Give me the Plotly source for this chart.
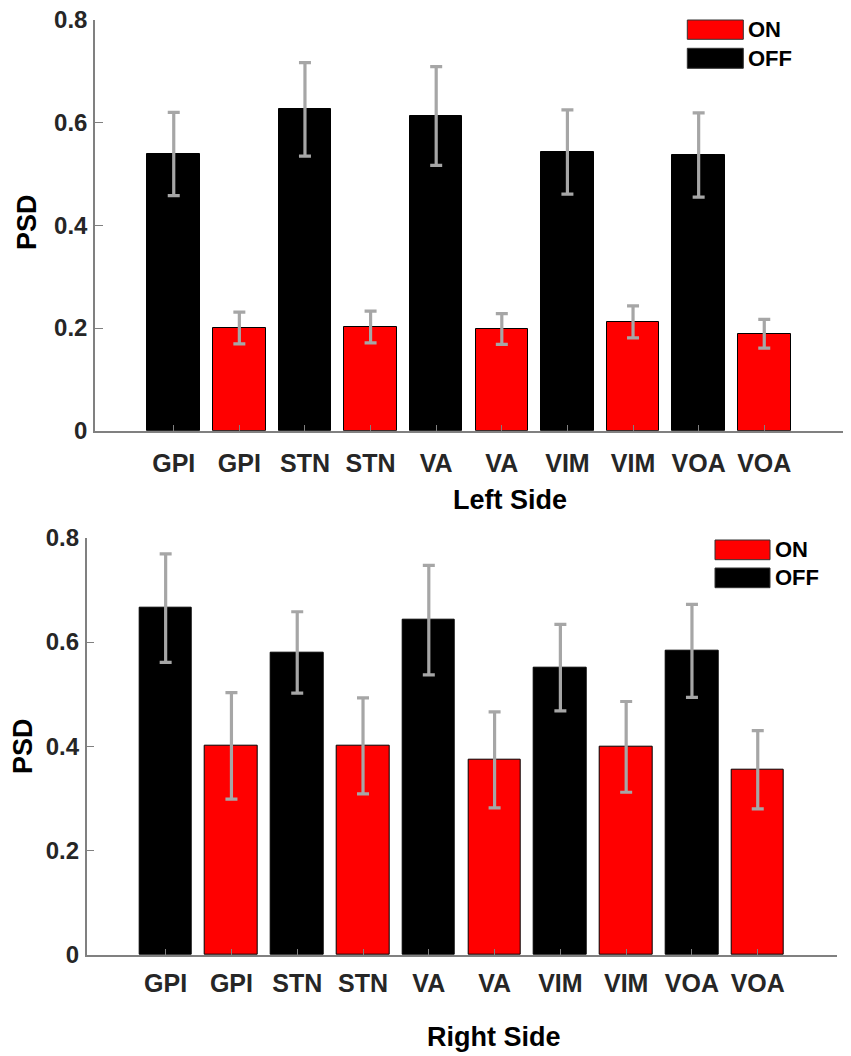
import plotly.graph_objects as go

regions = ["GPI", "STN", "VA", "VIM", "VOA"]

# left side
left_off = [0.539, 0.626, 0.613, 0.543, 0.537]
left_off_err = [0.081, 0.091, 0.096, 0.082, 0.082]
left_on = [0.200, 0.202, 0.198, 0.212, 0.189]
left_on_err = [0.031, 0.031, 0.030, 0.031, 0.028]

# right side
right_off = [0.665, 0.580, 0.642, 0.551, 0.583]
right_off_err = [0.104, 0.078, 0.105, 0.083, 0.089]
right_on = [0.401, 0.401, 0.374, 0.399, 0.355]
right_on_err = [0.102, 0.092, 0.092, 0.087, 0.075]

yticks = [0, 0.2, 0.4, 0.6, 0.8]
ytick_text = ["0", "0.2", "0.4", "0.6", "0.8"]

RED = "#ff0000"
BLACK = "#000000"
ERR = "#a6a6a6"
AX = "#808080"
TXT = "#262626"
FONT = "Liberation Sans, Arial, sans-serif"

W, H = 851, 1056
OFF = 8  # body margin of the html page


def fx(X):
    return (X - OFF) / W


def fy(Y):
    return 1 - (Y - OFF) / H


off_pos = [2 * i + 1 for i in range(len(regions))]
on_pos = [2 * i + 2 for i in range(len(regions))]
tick_pos = sorted(off_pos + on_pos)
tick_text = [r for r in regions for _ in range(2)]

fig = go.Figure()

panels = [
    ("x", "y", left_off, left_off_err, left_on, left_on_err),
    ("x2", "y2", right_off, right_off_err, right_on, right_on_err),
]

for xa, ya, off, off_err, on, on_err in panels:
    for pos, vals, errs, col, name in [
        (off_pos, off, off_err, BLACK, "OFF"),
        (on_pos, on, on_err, RED, "ON"),
    ]:
        fig.add_trace(go.Bar(
            x=pos, y=vals, name=name, width=0.8,
            marker=dict(color=col, line=dict(color="#000000", width=1)),
            error_y=dict(type="data", array=errs, color=ERR, thickness=3.2, width=6),
            xaxis=xa, yaxis=ya, showlegend=False,
        ))

xcommon = dict(
    range=[-0.2, 11.2], tickmode="array", tickvals=tick_pos, ticktext=tick_text,
    showline=True, linecolor=AX, linewidth=1.5, ticks="inside", ticklen=6,
    tickcolor=AX, tickwidth=1, showgrid=False, zeroline=False, automargin=False,
    tickfont=dict(family=FONT, size=25, color=TXT, weight="bold"),
    ticklabeloverflow="allow", fixedrange=True,
)
ycommon = dict(
    range=[0, 0.8], tickmode="array", tickvals=yticks, ticktext=ytick_text,
    showline=True, linecolor=AX, linewidth=1.5, ticks="inside", ticklen=8,
    tickcolor=AX, tickwidth=1, showgrid=False, zeroline=False, automargin=False,
    tickfont=dict(family=FONT, size=24, color=TXT, weight="bold"),
    ticklabelstandoff=1, ticklabeloverflow="allow", fixedrange=True,
)

fig.update_layout(
    template="none",
    width=W, height=H,
    margin=dict(l=0, r=0, t=0, b=0, autoexpand=False),
    paper_bgcolor="white", plot_bgcolor="white",
    bargap=0, barmode="overlay", showlegend=False,
    xaxis=dict(domain=[fx(95), fx(843)], anchor="y", ticklabelstandoff=10, **xcommon),
    yaxis=dict(domain=[fy(430.7), fy(20)], anchor="x", **ycommon),
    xaxis2=dict(domain=[fx(86.7), fx(836.7)], anchor="y2", ticklabelstandoff=5, **xcommon),
    yaxis2=dict(domain=[fy(955), fy(537.7)], anchor="x2", **ycommon),
)

labels = [
    dict(text="PSD", x=27, y=222, textangle=-90),
    dict(text="Left Side", x=510, y=500, textangle=0),
    dict(text="PSD", x=23, y=746, textangle=-90),
    dict(text="Right Side", x=494, y=1037, textangle=0),
]
for lab in labels:
    fig.add_annotation(
        text=lab["text"], x=fx(lab["x"]), y=fy(lab["y"]), xref="paper", yref="paper",
        showarrow=False, textangle=lab["textangle"], xanchor="center", yanchor="middle",
        font=dict(family=FONT, size=27, color="#000000", weight="bold"),
    )

# legends drawn as patches (one per panel)
legend_items = [("ON", RED), ("OFF", BLACK)]
legend_boxes = [
    (687.3, 743.3, [(20, 39.3), (48.3, 68.3)]),
    (715, 770, [(540, 559.7), (568, 587.7)]),
]
for x0, x1, rows in legend_boxes:
    for (name, col), (y0, y1) in zip(legend_items, rows):
        fig.add_shape(
            type="rect", xref="paper", yref="paper",
            x0=fx(x0), x1=fx(x1), y0=fy(y1), y1=fy(y0),
            fillcolor=col, line=dict(color="#333333", width=1),
        )
        fig.add_annotation(
            text=name, xref="paper", yref="paper", x=fx(x1 + 3),
            y=fy((y0 + y1) / 2), xanchor="left", yanchor="middle",
            showarrow=False,
            font=dict(family=FONT, size=22, color="#000000", weight="bold"),
        )

fig.write_html("out.html")
